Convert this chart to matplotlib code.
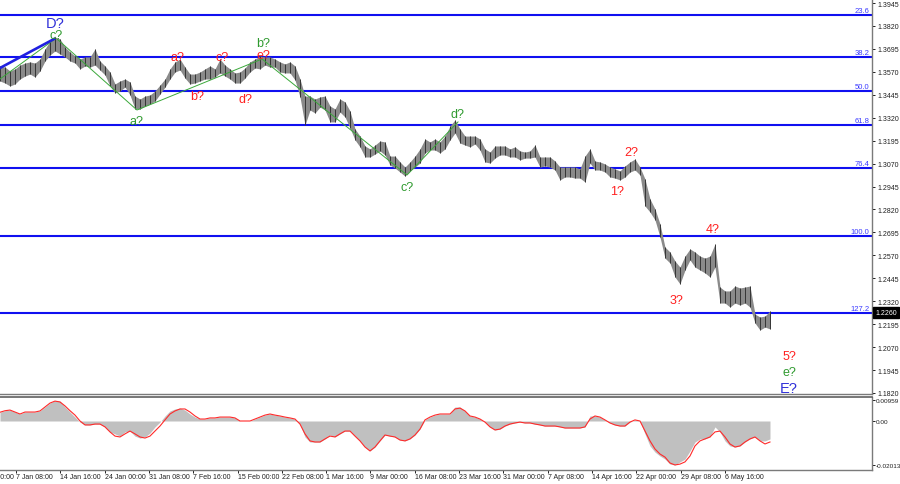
import numpy as np
import matplotlib
matplotlib.use("Agg")
import matplotlib.pyplot as plt
from matplotlib.transforms import blended_transform_factory as btf

# ---------------- data ----------------
# price bars sampled along the chart (high / low of each group of H4 bars)
bar_high = [1.3602, 1.3596, 1.3575, 1.3586, 1.3607, 1.3618, 1.3624, 1.3618, 1.3640, 1.3695,
            1.3738, 1.3760, 1.3749, 1.3705, 1.3678, 1.3656, 1.3640, 1.3651, 1.3651, 1.3695,
            1.3629, 1.3602, 1.3569, 1.3504, 1.3520, 1.3531, 1.3515, 1.3438, 1.3422, 1.3438,
            1.3444, 1.3466, 1.3498, 1.3531, 1.3586, 1.3624, 1.3640, 1.3596, 1.3558, 1.3558,
            1.3569, 1.3586, 1.3602, 1.3586, 1.3640, 1.3607, 1.3586, 1.3564, 1.3569, 1.3591,
            1.3624, 1.3640, 1.3656, 1.3651, 1.3651, 1.3640, 1.3624, 1.3613, 1.3624, 1.3602,
            1.3531, 1.3438, 1.3438, 1.3422, 1.3433, 1.3438, 1.3384, 1.3368, 1.3422, 1.3406,
            1.3357, 1.3259, 1.3220, 1.3166, 1.3150, 1.3171, 1.3193, 1.3188, 1.3111, 1.3111,
            1.3079, 1.3051, 1.3079, 1.3111, 1.3150, 1.3204, 1.3188, 1.3204, 1.3188, 1.3220,
            1.3275, 1.3308, 1.3259, 1.3220, 1.3220, 1.3220, 1.3204, 1.3150, 1.3133, 1.3166,
            1.3166, 1.3166, 1.3150, 1.3161, 1.3139, 1.3133, 1.3139, 1.3171, 1.3106, 1.3106,
            1.3106, 1.3084, 1.3051, 1.3051, 1.3051, 1.3051, 1.3041, 1.3111, 1.3150, 1.3084,
            1.3079, 1.3068, 1.3051, 1.3041, 1.3030, 1.3057, 1.3079, 1.3095, 1.3051, 1.2986,
            1.2877, 1.2823, 1.2741, 1.2615, 1.2588, 1.2539, 1.2506, 1.2566, 1.2605, 1.2588,
            1.2566, 1.2555, 1.2566, 1.2632, 1.2397, 1.2376, 1.2376, 1.2403, 1.2392, 1.2397,
            1.2403, 1.2250, 1.2234, 1.2239, 1.2267]
bar_low = [1.3520, 1.3509, 1.3493, 1.3504, 1.3531, 1.3547, 1.3558, 1.3542, 1.3575, 1.3629,
           1.3662, 1.3684, 1.3667, 1.3651, 1.3629, 1.3618, 1.3586, 1.3602, 1.3596, 1.3607,
           1.3580, 1.3553, 1.3493, 1.3455, 1.3466, 1.3487, 1.3444, 1.3368, 1.3368, 1.3384,
           1.3395, 1.3411, 1.3449, 1.3487, 1.3531, 1.3569, 1.3580, 1.3536, 1.3504, 1.3509,
           1.3520, 1.3531, 1.3531, 1.3542, 1.3564, 1.3547, 1.3531, 1.3509, 1.3509, 1.3536,
           1.3569, 1.3591, 1.3586, 1.3607, 1.3596, 1.3596, 1.3569, 1.3564, 1.3564, 1.3526,
           1.3433, 1.3280, 1.3362, 1.3346, 1.3378, 1.3362, 1.3297, 1.3297, 1.3351, 1.3324,
           1.3264, 1.3199, 1.3161, 1.3106, 1.3106, 1.3122, 1.3139, 1.3117, 1.3062, 1.3046,
           1.3024, 1.3002, 1.3030, 1.3051, 1.3073, 1.3128, 1.3144, 1.3144, 1.3128, 1.3150,
           1.3199, 1.3237, 1.3182, 1.3171, 1.3161, 1.3177, 1.3144, 1.3079, 1.3073, 1.3100,
           1.3117, 1.3117, 1.3106, 1.3106, 1.3090, 1.3100, 1.3100, 1.3106, 1.3051, 1.3057,
           1.3051, 1.3035, 1.2981, 1.2997, 1.2997, 1.2991, 1.2991, 1.2970, 1.3073, 1.3035,
           1.3035, 1.3024, 1.2997, 1.2991, 1.2981, 1.2997, 1.3024, 1.3035, 1.3008, 1.2839,
           1.2806, 1.2763, 1.2670, 1.2555, 1.2528, 1.2452, 1.2414, 1.2490, 1.2545, 1.2506,
           1.2490, 1.2474, 1.2452, 1.2506, 1.2310, 1.2310, 1.2288, 1.2310, 1.2299, 1.2310,
           1.2288, 1.2201, 1.2163, 1.2179, 1.2169]

# oscillator (grey histogram = main, red = signal)
osc_main = [0.0040, 0.0047, 0.0050, 0.0041, 0.0032, 0.0041, 0.0041, 0.0041, 0.0046, 0.0064,
            0.0082, 0.0093, 0.0091, 0.0064, 0.0041, 0.0018, -0.0005, -0.0018, -0.0018, -0.0014,
            -0.0014, -0.0027, -0.0050, -0.0059, -0.0069, -0.0050, -0.0046, -0.0069, -0.0078, -0.0073,
            -0.0055, -0.0027, -0.0005, 0.0023, 0.0046, 0.0055, 0.0059, 0.0050, 0.0032, 0.0018,
            0.0009, 0.0009, 0.0014, 0.0014, 0.0018, 0.0018, 0.0018, 0.0014, 0.0000, 0.0000,
            0.0000, 0.0009, 0.0018, 0.0027, 0.0032, 0.0027, 0.0023, 0.0018, 0.0014, 0.0009,
            -0.0014, -0.0073, -0.0096, -0.0096, -0.0096, -0.0082, -0.0064, -0.0073, -0.0059, -0.0046,
            -0.0046, -0.0069, -0.0091, -0.0119, -0.0137, -0.0119, -0.0091, -0.0064, -0.0069, -0.0073,
            -0.0087, -0.0091, -0.0082, -0.0064, -0.0037, 0.0005, 0.0018, 0.0027, 0.0032, 0.0032,
            0.0032, 0.0064, 0.0064, 0.0046, 0.0023, 0.0018, 0.0009, -0.0005, -0.0027, -0.0041,
            -0.0037, -0.0023, -0.0014, -0.0009, -0.0005, -0.0009, -0.0009, -0.0014, -0.0018, -0.0023,
            -0.0023, -0.0023, -0.0027, -0.0032, -0.0032, -0.0032, -0.0032, -0.0027, 0.0023, 0.0023,
            0.0018, 0.0005, -0.0009, -0.0018, -0.0023, -0.0023, -0.0005, 0.0005, 0.0000, -0.0059,
            -0.0114, -0.0142, -0.0160, -0.0174, -0.0197, -0.0201, -0.0187, -0.0174, -0.0137, -0.0096,
            -0.0082, -0.0082, -0.0073, -0.0027, -0.0050, -0.0091, -0.0114, -0.0119, -0.0114, -0.0096,
            -0.0082, -0.0073, -0.0091, -0.0091, -0.0082]
osc_signal = [0.0040, 0.0047, 0.0050, 0.0041, 0.0032, 0.0041, 0.0041, 0.0041, 0.0046, 0.0064,
              0.0082, 0.0091, 0.0087, 0.0069, 0.0047, 0.0027, 0.0000, -0.0018, -0.0018, -0.0014,
              -0.0014, -0.0027, -0.0050, -0.0069, -0.0073, -0.0059, -0.0046, -0.0059, -0.0073, -0.0078,
              -0.0069, -0.0046, -0.0023, 0.0005, 0.0032, 0.0046, 0.0055, 0.0055, 0.0041, 0.0023,
              0.0009, 0.0009, 0.0014, 0.0014, 0.0018, 0.0018, 0.0018, 0.0014, 0.0000, 0.0000,
              0.0000, 0.0009, 0.0018, 0.0027, 0.0032, 0.0027, 0.0023, 0.0018, 0.0014, 0.0009,
              -0.0014, -0.0059, -0.0091, -0.0096, -0.0096, -0.0082, -0.0069, -0.0073, -0.0059, -0.0046,
              -0.0046, -0.0069, -0.0091, -0.0119, -0.0137, -0.0119, -0.0091, -0.0064, -0.0069, -0.0073,
              -0.0087, -0.0091, -0.0082, -0.0064, -0.0037, 0.0005, 0.0018, 0.0027, 0.0032, 0.0032,
              0.0032, 0.0055, 0.0059, 0.0046, 0.0023, 0.0018, 0.0009, -0.0005, -0.0027, -0.0041,
              -0.0037, -0.0023, -0.0014, -0.0009, -0.0005, -0.0009, -0.0009, -0.0014, -0.0018, -0.0023,
              -0.0023, -0.0023, -0.0027, -0.0032, -0.0032, -0.0032, -0.0032, -0.0027, 0.0009, 0.0023,
              0.0018, 0.0005, -0.0009, -0.0018, -0.0023, -0.0023, -0.0005, 0.0005, 0.0000, -0.0046,
              -0.0091, -0.0128, -0.0151, -0.0165, -0.0192, -0.0201, -0.0197, -0.0187, -0.0160, -0.0114,
              -0.0091, -0.0082, -0.0073, -0.0050, -0.0046, -0.0073, -0.0105, -0.0119, -0.0114, -0.0096,
              -0.0082, -0.0073, -0.0091, -0.0105, -0.0096]

fib_names = ["23.6", "38.2", "50.0", "61.8", "76.4", "100.0", "127.2"]
fib_prices = [1.3880, 1.3651, 1.3465, 1.3280, 1.3046, 1.2675, 1.2256]

# wave lines (bar index, price)
wave_bar = [41.2, 98.9, 189.2, 293.9, 330.7]
wave_price = [1.3749, 1.3362, 1.3640, 1.3008, 1.3297]
lead_bar = [0.0, 39.7]
lead_price = [1.3531, 1.3749]
d_bar = [0.0, 39.0]
d_price = [1.3591, 1.3749]

RED, GREEN, BLUE = "#ff2020", "#2f9a2f", "#3030d8"
wave_labels = [
    ("D?", 39.7, 1.3836, BLUE, 10.5),
    ("c?", 40.4, 1.3773, GREEN, 9),
    ("a?", 98.9, 1.3302, GREEN, 9),
    ("a?", 128.5, 1.3651, RED, 9),
    ("b?", 142.2, 1.3438, RED, 9),
    ("c?", 160.3, 1.3651, RED, 9),
    ("d?", 177.6, 1.3422, RED, 9),
    ("b?", 190.0, 1.3725, GREEN, 9),
    ("e?", 190.0, 1.3664, RED, 9),
    ("c?", 293.9, 1.2942, GREEN, 9),
    ("d?", 330.0, 1.3340, GREEN, 9),
    ("1?", 445.5, 1.2921, RED, 9),
    ("2?", 455.6, 1.3133, RED, 9),
    ("3?", 488.8, 1.2327, RED, 9),
    ("4?", 514.8, 1.2714, RED, 9),
    ("5?", 569.7, 1.2021, RED, 9),
    ("e?", 569.7, 1.1934, GREEN, 9),
    ("E?", 569.7, 1.1845, BLUE, 10.5),
]

time_labels = ["7 Jan 08:00", "14 Jan 16:00", "24 Jan 00:00", "31 Jan 08:00", "7 Feb 16:00",
               "15 Feb 00:00", "22 Feb 08:00", "1 Mar 16:00", "9 Mar 00:00", "16 Mar 08:00",
               "23 Mar 16:00", "31 Mar 00:00", "7 Apr 08:00", "14 Apr 16:00", "22 Apr 00:00",
               "29 Apr 08:00", "6 May 16:00"]
first_label = "31 Dec 00:00"
price_ticks = [1.3945, 1.3820, 1.3695, 1.3570, 1.3445, 1.3320, 1.3195, 1.3070, 1.2945, 1.2820,
               1.2695, 1.2570, 1.2445, 1.2320, 1.2195, 1.2070, 1.1945, 1.1820]
osc_ticks = [0.00959, 0.0, -0.02013]
osc_tick_labels = ["0.00959", "0.00", "-0.02013"]
last_price = 1.2260

# ---------------- layout ----------------
BARS_PER_SAMPLE = 3.61
BARS_PER_LABEL = 32
FIRST_TICK = 11.5
XMAX = 629.6

plt.rcParams['font.family'] = ['Liberation Sans', 'DejaVu Sans']
W, H = 900, 485
fig = plt.figure(figsize=(W / 100, H / 100), dpi=100)
fig.patch.set_facecolor('white')
ax = fig.add_axes([0, 1 - 395 / H, 872 / W, 395 / H])
ax2 = fig.add_axes([0, 1 - 471 / H, 872 / W, 73 / H])

x = np.arange(len(bar_high)) * BARS_PER_SAMPLE
hi = np.array(bar_high)
lo = np.array(bar_low)

spine_col = '#7a7a7a'
for a in (ax, ax2):
    a.set_xlim(0, XMAX)
    a.set_facecolor('white')
    for s in ('left', 'top'):
        a.spines[s].set_visible(False)
    for s in ('right', 'bottom'):
        a.spines[s].set_color(spine_col)
        a.spines[s].set_linewidth(1.0)
ax2.spines['top'].set_visible(True)
ax2.spines['top'].set_color('#606060')
ax2.spines['top'].set_linewidth(1.2)

ax.set_ylim(1.18143, 1.3967)

# fib levels
for name, p in zip(fib_names, fib_prices):
    ax.axhline(p, color='#1010f0', lw=1.5, zorder=2)
    ax.text(0.997, p + 0.0004, name, transform=btf(ax.transAxes, ax.transData),
            ha='right', va='bottom', fontsize=5.5, color='#3a3aff', zorder=5)

# price bars
ax.fill_between(x, lo, hi, color='#8a8a8a', lw=0, zorder=3)
ax.vlines(x, lo, hi, color='#353535', lw=0.7, zorder=4)

# wave lines
ax.plot(wave_bar, wave_price, color='#3aa83a', lw=0.7, zorder=5)
ax.plot(lead_bar, lead_price, color='#3aa83a', lw=0.7, zorder=5)
ax.plot(d_bar, d_price, color='#2020e0', lw=1.9, zorder=5)

for t, bx, p, c, fs in wave_labels:
    ax.text(bx, p, t, color=c, fontsize=fs, ha='center', va='center', zorder=6, clip_on=False)

# right price axis
ax.yaxis.tick_right()
ax.set_yticks(price_ticks)
ax.set_yticklabels([f"{v:.4f}" for v in price_ticks])
ax.tick_params(axis='y', direction='out', length=2.5, width=0.7, pad=1.5, labelsize=5,
               colors='#202020')
ax.set_xticks([])

ax.text(1.004, last_price, f"{last_price:.4f}", transform=btf(ax.transAxes, ax.transData),
        ha='left', va='center', fontsize=5, color='white', zorder=10, clip_on=False,
        bbox=dict(boxstyle='square,pad=0.3', fc='black', ec='black'))

# oscillator
ax2.set_ylim(-0.0224, 0.01097)
ax2.fill_between(x, 0, osc_main, color='#c0c0c0', lw=0, zorder=2)
ax2.plot(x, osc_signal, color='#ff2a2a', lw=0.8, zorder=3)
ax2.yaxis.tick_right()
ax2.set_yticks(osc_ticks)
ax2.set_yticklabels(osc_tick_labels)
ax2.tick_params(axis='y', direction='out', length=2, width=0.7, pad=1, labelsize=4.6,
                colors='#202020')

ticks = FIRST_TICK + BARS_PER_LABEL * np.arange(len(time_labels))
ax2.set_xticks(ticks)
ax2.set_xticklabels(time_labels, ha='left')
ax2.tick_params(axis='x', direction='out', length=2, width=0.7, pad=0.5, labelsize=5,
                colors='#202020')
ax2.annotate(first_label, xy=(FIRST_TICK - BARS_PER_LABEL, 0),
             xycoords=btf(ax2.transData, ax2.transAxes),
             xytext=(0, -2.5), textcoords='offset points',
             ha='left', va='top', fontsize=5, color='#202020', annotation_clip=False)

fig.savefig('out.png', dpi=100, facecolor='white')
